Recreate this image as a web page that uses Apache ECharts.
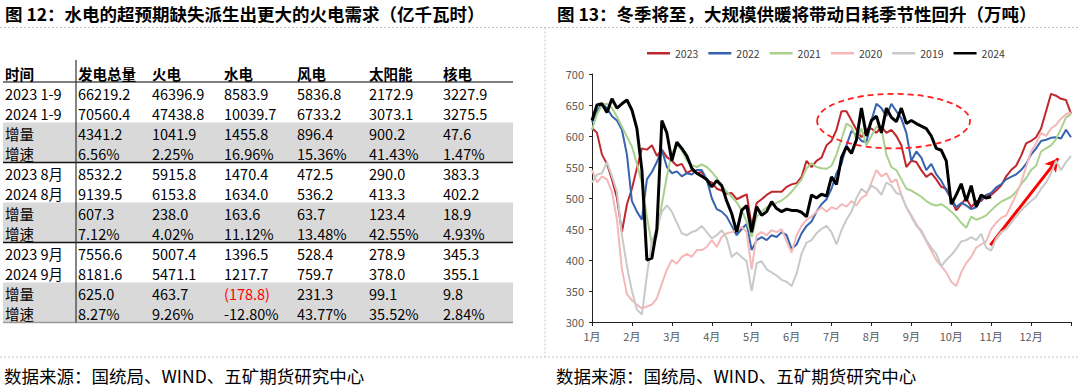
<!DOCTYPE html>
<html><head><meta charset="utf-8">
<script src="https://cdn.jsdelivr.net/npm/echarts@6/dist/echarts.min.js"></script>
<style>html,body{margin:0;padding:0;background:#fff}#c{width:1080px;height:387px}</style>
</head><body><div id="c"></div>
<script>
// ---------- table data ----------
const tableTitle = '图 12：水电的超预期缺失派生出更大的火电需求（亿千瓦时）';
const chartTitle = '图 13：冬季将至，大规模供暖将带动日耗季节性回升（万吨）';
const sourceText = '数据来源：国统局、WIND、五矿期货研究中心';
const headers = ['时间','发电总量','火电','水电','风电','太阳能','核电'];
const rowLabels = ['2023 1-9','2024 1-9','增量','增速','2023 8月','2024 8月','增量','增速','2023 9月','2024 9月','增量','增速'];
const colTotal   = ['66219.2','70560.4','4341.2','6.56%','8532.2','9139.5','607.3','7.12%','7556.6','8181.6','625.0','8.27%'];
const colThermal = ['46396.9','47438.8','1041.9','2.25%','5915.8','6153.8','238.0','4.02%','5007.4','5471.1','463.7','9.26%'];
const colHydro   = ['8583.9','10039.7','1455.8','16.96%','1470.4','1634.0','163.6','11.12%','1396.5','1217.7','(178.8)','-12.80%'];
const colWind    = ['5836.8','6733.2','896.4','15.36%','472.5','536.2','63.7','13.48%','528.4','759.7','231.3','43.77%'];
const colSolar   = ['2172.9','3073.1','900.2','41.43%','290.0','413.3','123.4','42.55%','278.9','378.0','99.1','35.52%'];
const colNuclear = ['3227.9','3275.5','47.6','1.47%','383.3','402.2','18.9','4.93%','345.3','355.1','9.8','2.84%'];
const negativeCells = ['(178.8)'];

// ---------- chart data (daily coal burn, readings every 1/8 month from 1月 start) ----------
const STEP = 0.125;
const monthLabels = ['1月','2月','3月','4月','5月','6月','7月','8月','9月','10月','11月','12月'];
const seriesNames = ['2023','2022','2021','2020','2019','2024'];
const v2023 = [613,605,570,555,530,500,445,490,515,
 548,580,578,585,568,578,566,560,
 552,555,540,545,540,542,528,525,
 515,512,507,508,498,502,506,455,
 492,498,505,510,510,510,518,522,
 524,534,560,550,560,565,585,592,
 610,640,640,625,610,598,610,612,
 605,615,605,610,600,585,550,560,
 558,545,534,540,530,518,515,497,
 480,490,500,485,495,495,505,505,
 512,520,535,545,552,568,588,592,
 598,612,640,668,665,660,658,636];
const v2022 = [622,640,652,645,632,625,610,570,495,
 478,465,530,542,558,578,550,540,
 543,535,540,538,545,545,530,500,
 482,478,470,455,440,450,458,416,
 432,437,432,440,437,445,440,418,
 425,443,455,462,478,490,498,515,
 540,555,585,608,602,592,590,625,
 652,645,632,652,640,628,605,560,
 575,565,545,555,538,528,512,500,
 485,492,488,482,485,498,505,508,
 517,522,530,534,538,545,555,570,
 580,592,594,597,598,596,610,598];
const v2021 = [610,635,650,652,645,631,615,599,583,
 555,524,470,425,440,490,535,572,
 585,577,561,553,550,554,550,542,
 532,520,510,502,493,480,462,437,
 470,478,485,488,492,496,502,510,
 520,530,548,556,550,548,547,552,
 570,595,620,615,595,612,585,600,
 615,612,570,550,545,530,515,512,
 507,502,495,490,488,490,485,478,
 470,460,452,470,465,468,472,480,
 488,494,498,502,510,522,532,545,
 552,575,580,585,595,612,630,635];
const v2020 = [545,525,535,530,510,465,385,345,335,
 328,322,325,328,338,362,384,400,
 394,405,410,405,416,416,421,432,
 421,437,443,445,448,453,445,385,
 440,445,440,448,445,450,430,412,
 440,455,465,470,478,485,478,485,
 482,490,486,495,488,500,505,525,
 545,535,540,525,530,505,485,472,
 458,445,430,415,400,390,380,365,
 358,380,395,405,420,425,430,450,
 460,468,472,488,505,525,550,575,
 588,605,600,612,618,628,635,638];
const v2019 = [525,538,540,558,535,510,440,390,350,
 320,312,375,430,450,478,488,478,
 460,443,440,445,448,455,445,435,
 440,448,435,405,412,405,398,350,
 395,398,385,380,375,368,365,358,
 378,410,428,432,443,450,455,445,
 425,448,465,478,500,515,508,520,
 515,505,525,520,508,505,485,470,
 455,448,432,420,410,390,400,408,
 418,430,432,437,432,442,420,415,
 435,445,450,460,470,480,488,495,
 502,515,525,540,560,545,558,568];
const v2024 = [625,650,652,638,660,645,652,658,642,
 612,545,400,403,450,625,605,560,
 590,580,568,548,540,535,530,518,
 528,520,495,475,445,480,488,445,
 486,472,478,494,483,478,482,480,
 480,477,470,505,500,506,503,534,
 522,565,583,572,594,645,600,625,
 632,605,645,630,623,645,620,625,
 620,616,612,600,580,577,560,490,
 505,523,495,520,486,505,500,502];
const seriesValues = [v2023,v2022,v2021,v2020,v2019,v2024];
const seriesColors = ['#C0272D','#3563AE','#A9D18E','#F4B8B8','#C9C9C9','#000000'];
const seriesWidths = [2,2,2,2,2,3];
// annotations (data coordinates)
const arrowFrom = [9.98, 424], arrowTo = [11.68, 564];
const ellipseBox = {m0:5.64, m1:9.47, v0:580, v1:668};

const FONT = 'Noto Sans CJK SC';
const chart = echarts.init(document.getElementById('c'), null, {renderer:'svg'});

// ---------- table graphics ----------
const g = [];
let gid = 0;
function add(el){ el.id = 'g' + (gid++); el.silent = true; g.push(el); }
const colX = [5,78,152,224,297,369,443];
const rowY0 = 93, rowH = 20, tblL = 3, tblR = 513;
// grey bands
[2,6,10].forEach(r => add({type:'rect', shape:{x:tblL, y:rowY0 + rowH*r - 10.5, width:tblR-tblL, height:rowH*2}, style:{fill:'#D9D9D9'}, z:1}));
// lines
add({type:'line', shape:{x1:tblL,y1:82,x2:tblR,y2:82}, style:{stroke:'#555',lineWidth:1.5}, z:2});
[162.5,242.5].forEach(y => add({type:'line', shape:{x1:tblL,y1:y,x2:tblR,y2:y}, style:{stroke:'#111',lineWidth:1.3}, z:2}));
add({type:'line', shape:{x1:tblL,y1:322.5,x2:tblR,y2:322.5}, style:{stroke:'#9a9a9a',lineWidth:1.5}, z:2});
add({type:'line', shape:{x1:76,y1:60,x2:76,y2:322.5}, style:{stroke:'#333',lineWidth:1.2}, z:3});
// header
headers.forEach((h,i) => add({type:'text', x:colX[i], y:73.5, style:{text:h, font:'bold 14.5px "'+FONT+'"', fill:'#000', verticalAlign:'middle'}, z:4}));
const cols = [rowLabels,colTotal,colThermal,colHydro,colWind,colSolar,colNuclear];
cols.forEach((col,ci) => col.forEach((t,ri) => add({type:'text', x:colX[ci], y:rowY0 + rowH*ri, style:{text:t, font:'14.5px "'+FONT+'"', fill: negativeCells.includes(t) ? '#FF0000' : '#000', verticalAlign:'middle'}, z:4})));
// titles, separators, sources
add({type:'text', x:5, y:13, style:{text:tableTitle, font:'bold 17.5px "'+FONT+'"', fill:'#000', verticalAlign:'middle'}, z:4});
add({type:'text', x:557, y:13, style:{text:chartTitle, font:'bold 17.5px "'+FONT+'"', fill:'#000', verticalAlign:'middle'}, z:4});
add({type:'line', shape:{x1:0,y1:27.5,x2:1080,y2:27.5}, style:{stroke:'#C4C4C4',lineWidth:1,lineDash:[2,2]}, z:2});
add({type:'line', shape:{x1:0,y1:357,x2:1080,y2:357}, style:{stroke:'#C4C4C4',lineWidth:1,lineDash:[2,2]}, z:2});
add({type:'line', shape:{x1:545,y1:27.5,x2:545,y2:357}, style:{stroke:'#C4C4C4',lineWidth:1,lineDash:[2,2]}, z:2});
add({type:'text', x:4, y:375, style:{text:sourceText, font:'17.5px "'+FONT+'"', fill:'#000', verticalAlign:'middle'}, z:4});
add({type:'text', x:556, y:375, style:{text:sourceText, font:'17.5px "'+FONT+'"', fill:'#000', verticalAlign:'middle'}, z:4});

function pts(arr){ return arr.map((v,i) => [i*STEP, v]); }

const series = seriesNames.map((n,i) => ({
  name:n, type:'line', data:pts(seriesValues[i]), showSymbol:false, symbol:'none',
  lineStyle:{color:seriesColors[i], width:seriesWidths[i]}, itemStyle:{color:seriesColors[i]},
  z: 2 + i, silent:true
}));
series[5].markLine = {
  silent:true, symbol:['none','arrow'], symbolSize:[11,13], animation:false,
  lineStyle:{color:'#FF0000', width:3, type:'solid'}, label:{show:false},
  data:[[{coord:arrowFrom},{coord:arrowTo}]]
};

chart.setOption({
  animation:false,
  textStyle:{fontFamily:FONT},
  legend:{
    data:seriesNames.map((n,i) => ({name:n, icon:'rect'})),
    left:642, top:43, itemWidth:23, itemHeight:2.5, itemGap:10,
    textStyle:{fontSize:10.5, color:'#404040', fontFamily:FONT}
  },
  grid:{left:592, top:74, width:479, height:248, containLabel:false},
  xAxis:{
    type:'value', min:0, max:12, interval:1,
    axisLine:{show:true, lineStyle:{color:'#222', width:1}},
    axisTick:{show:true, length:4, lineStyle:{color:'#222'}},
    splitLine:{show:false},
    axisLabel:{fontSize:11, color:'#595959', margin:8, formatter:v => monthLabels[v] || ''}
  },
  yAxis:{
    type:'value', min:300, max:700, interval:50,
    axisLine:{show:true, lineStyle:{color:'#222', width:1}},
    axisTick:{show:true, length:3, lineStyle:{color:'#222'}},
    splitLine:{show:false},
    axisLabel:{fontSize:11, color:'#595959', margin:8}
  },
  series:series,
  graphic:g
});

// dashed ellipse around the summer peak, placed via the axes
const p0 = chart.convertToPixel({gridIndex:0}, [ellipseBox.m0, ellipseBox.v1]);
const p1 = chart.convertToPixel({gridIndex:0}, [ellipseBox.m1, ellipseBox.v0]);
chart.setOption({graphic:[{
  id:'ellipse', type:'ellipse', silent:true, z:100,
  shape:{cx:(p0[0]+p1[0])/2, cy:(p0[1]+p1[1])/2, rx:(p1[0]-p0[0])/2, ry:(p1[1]-p0[1])/2},
  style:{fill:'none', stroke:'#FF2020', lineWidth:1.8, lineDash:[6,4]}
}]});
</script>
</body></html>
